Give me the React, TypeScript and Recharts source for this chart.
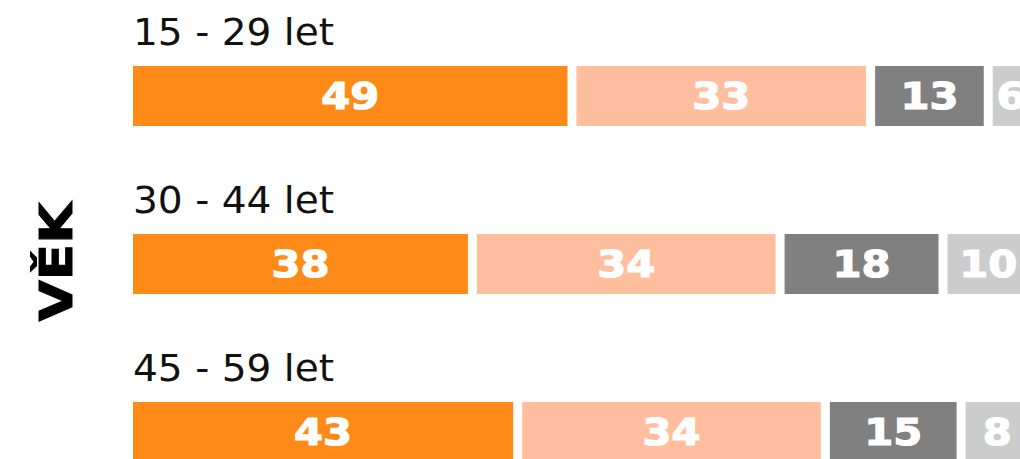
import { BarChart, Bar, XAxis, YAxis, LabelList } from "recharts"

const categories = ["15 - 29 let", "30 - 44 let", "45 - 59 let"]
const seriesA = [49, 38, 43]
const seriesB = [33, 34, 34]
const seriesC = [13, 18, 15]
const seriesD = [6, 10, 8]

const series = [
  { key: "a", values: seriesA, color: "#FF8A17" },
  { key: "b", values: seriesB, color: "#FFBF9F" },
  { key: "c", values: seriesC, color: "#808080" },
  { key: "d", values: seriesD, color: "#CCCCCC" }
]

const chartData = categories.map((name, i) => {
  const row: Record<string, string | number> = { name }
  series.forEach((s) => {
    row[s.key] = s.values[i]
  })
  return row
})

const GAP = 9

function GapRect(props: any) {
  const { x, y, width, height, fill } = props
  return (
    <rect
      x={x}
      y={y}
      width={Math.max(width - GAP, 0)}
      height={height}
      fill={fill}
    />
  )
}

function ValueLabel(props: any) {
  const { x, y, width, height, value } = props
  const txt = String(value)
  return (
    <text
      x={x + (width - GAP) / 2}
      y={y + height / 2 + 13}
      textAnchor="middle"
      fill="#ffffff"
      stroke="#ffffff"
      strokeWidth={1.2}
      fontFamily="DejaVu Sans"
      fontWeight="bold"
      fontSize={37}
      textLength={txt.length * 29}
      lengthAdjust="spacingAndGlyphs"
    >
      {txt}
    </text>
  )
}

function NameLabel(props: any) {
  const { x, y, value } = props
  return (
    <text
      x={x}
      y={y - 21}
      fill="#111111"
      fontFamily="DejaVu Sans"
      fontSize={38}
      textLength={201}
      lengthAdjust="spacingAndGlyphs"
    >
      {value}
    </text>
  )
}

function AxisTitle() {
  return (
    <text
      x={72}
      y={262}
      transform="rotate(-90 72 262)"
      textAnchor="middle"
      fill="#000000"
      stroke="#000000"
      strokeWidth={1}
      fontFamily="DejaVu Sans"
      fontWeight="bold"
      fontSize={44}
      textLength={119}
      lengthAdjust="spacingAndGlyphs"
    >
      VĚK
    </text>
  )
}

export default function App() {
  return (
    <div
      style={{
        position: "fixed",
        left: 0,
        top: 0,
        width: 1020,
        height: 459,
        overflow: "hidden",
        background: "#ffffff"
      }}
    >
      <BarChart
        width={1100}
        height={540}
        data={chartData}
        layout="vertical"
        margin={{ top: 12, right: 62, bottom: 24, left: 0 }}
        barSize={60}
      >
        <XAxis type="number" domain={[0, 100]} allowDataOverflow hide />
        <YAxis
          type="category"
          dataKey="name"
          width={133}
          axisLine={false}
          tickLine={false}
          tick={false}
          label={{ content: () => <AxisTitle /> }}
        />
        {series.map((s, idx) => (
          <Bar
            key={s.key}
            dataKey={s.key}
            stackId="age"
            fill={s.color}
            shape={GapRect}
            isAnimationActive={false}
          >
            {idx === 0 && (
              <LabelList dataKey="name" content={NameLabel} />
            )}
            <LabelList dataKey={s.key} content={ValueLabel} />
          </Bar>
        ))}
      </BarChart>
    </div>
  )
}
